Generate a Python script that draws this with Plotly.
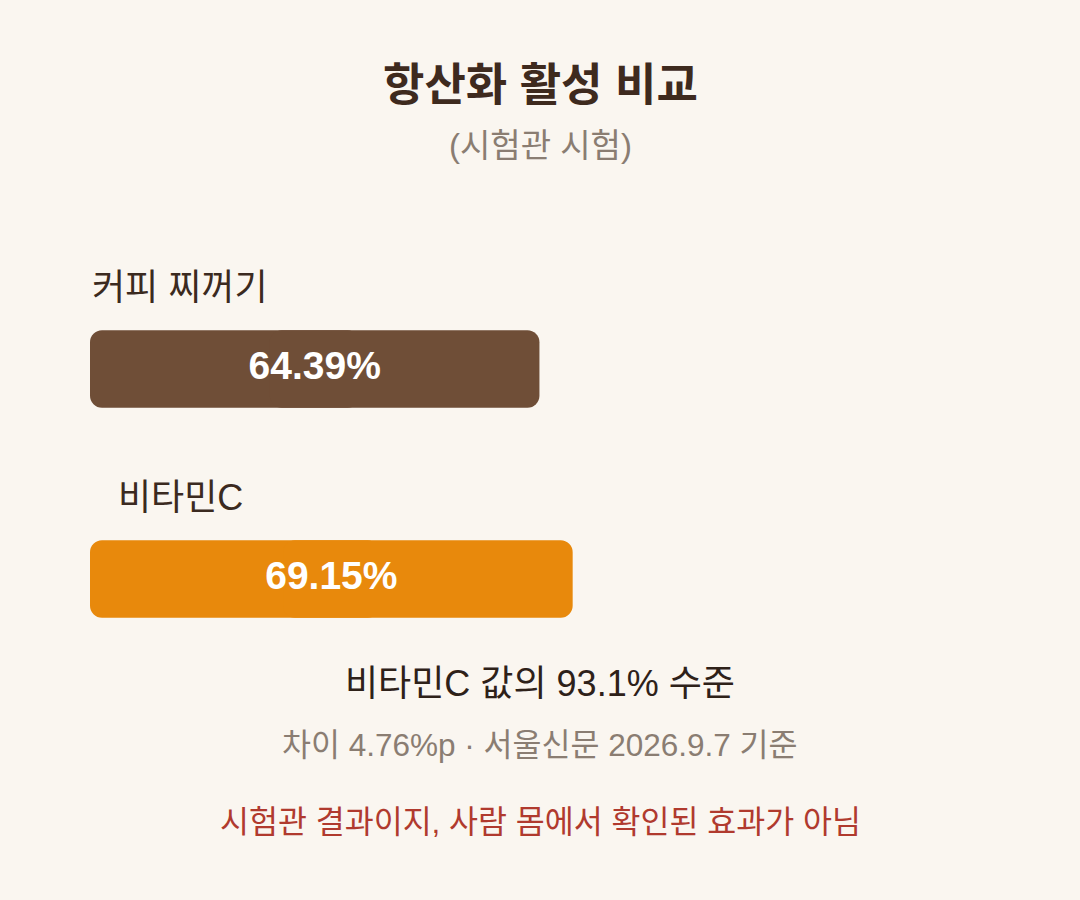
import plotly.graph_objects as go

# data
names = ["커피 찌꺼기", "비타민C"]
values = [64.39, 69.15]
colors = ["#6F4E37", "#E8890C"]

ratio = values[0] / values[1] * 100
diff = values[1] - values[0]

font_family = "Liberation Sans, Noto Sans CJK KR, sans-serif"
BAR_W = 0.37

fig = go.Figure()

# plotly only rounds the far end of a bar, so each bar is drawn as two
# overlapping halves: one grows right from the middle, one grows left
left_part = [v * 0.6 for v in values]
right_base = [v * 0.4 for v in values]
fig.add_trace(go.Bar(
    x=[-v for v in left_part], base=left_part, y=names, orientation="h",
    marker=dict(color=colors, line=dict(width=0)), width=BAR_W, hoverinfo="skip",
))
fig.add_trace(go.Bar(
    x=[v - b for v, b in zip(values, right_base)], base=right_base, y=names,
    orientation="h", marker=dict(color=colors, line=dict(width=0)), width=BAR_W,
    hoverinfo="skip",
))

# value labels in the middle of each bar
fig.add_trace(go.Scatter(
    x=[v / 2 for v in values], y=names, mode="text",
    text=[f"{v:.2f}%" for v in values],
    textfont=dict(color="white", size=39, family=font_family, weight="bold"),
    hoverinfo="skip",
))

# category labels above the bars
for name in names:
    fig.add_annotation(x=0.129, xref="paper", y=name, yref="y", yshift=82,
                       xanchor="center", yanchor="middle",
                       text=name, showarrow=False,
                       font=dict(size=36, color="#3B2A20"))

T, B, L, R = 180, 216, 90, 292
W, H = 1080, 900
cx = (W / 2 - L) / (W - L - R)


def page_text(py, text, size, color, weight="normal"):
    fig.add_annotation(x=cx, xref="paper", y=(H - B - py) / (H - T - B), yref="paper",
                       xanchor="center", yanchor="middle", text=text, showarrow=False,
                       font=dict(size=size, color=color, weight=weight))


# titles and notes
page_text(85, "항산화 활성 비교", 45, "#3E2A1E", "bold")
page_text(145, "(시험관 시험)", 33, "#8A7D72")
page_text(683, f"비타민C 값의 {ratio:.1f}% 수준", 36, "#2E2119")
page_text(745, f"차이 {diff:.2f}%p · 서울신문 2026.9.7 기준", 31.5, "#8A7D72")
page_text(822, "시험관 결과이지, 사람 몸에서 확인된 효과가 아님", 31.5, "#B03A2E")

fig.update_layout(
    width=W, height=H,
    margin=dict(l=L, r=R, t=T, b=B),
    paper_bgcolor="#FAF6F0",
    plot_bgcolor="#FAF6F0",
    font=dict(family=font_family),
    barmode="overlay",
    barcornerradius=12,
    showlegend=False,
    xaxis=dict(range=[0, 100], visible=False, fixedrange=True),
    yaxis=dict(range=[1.5, -0.9], visible=False, fixedrange=True),
)

fig.write_html("out.html", config={"displayModeBar": False},
               post_script="document.body.style.margin='0';"
                           "document.body.style.background='#FAF6F0';")
